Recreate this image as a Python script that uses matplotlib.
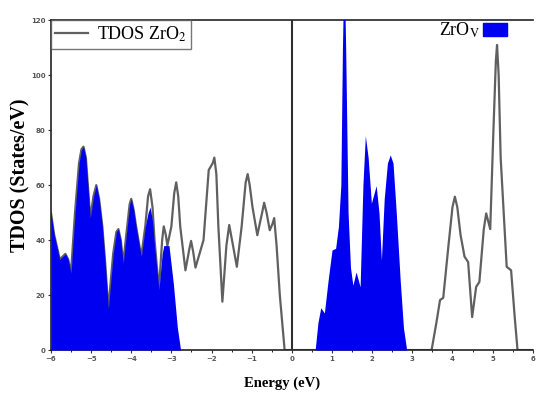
import matplotlib
matplotlib.use('Agg')
import matplotlib.pyplot as plt
from matplotlib.lines import Line2D
from matplotlib.patches import Patch

plt.rcParams['mathtext.fontset'] = 'stix'

# TDOS ZrO2 (grey line)
e_tdos = [-6.0, -5.92, -5.78, -5.71, -5.64, -5.57, -5.5, -5.4, -5.3, -5.24, -5.19, -5.13,
          -5.07, -5.02, -4.94, -4.87, -4.8, -4.72, -4.65, -4.57, -4.45, -4.37, -4.32, -4.26,
          -4.2, -4.1, -4.04, -4.0, -3.94, -3.88, -3.75, -3.65, -3.58, -3.53, -3.47, -3.42,
          -3.31, -3.23, -3.19, -3.14, -3.1, -3.0, -2.93, -2.88, -2.83, -2.78, -2.65, -2.55,
          -2.51, -2.46, -2.4, -2.2, -2.07, -1.97, -1.93, -1.88, -1.83, -1.73, -1.63, -1.56,
          -1.49, -1.37, -1.25, -1.15, -1.1, -1.05, -0.98, -0.86, -0.74, -0.69, -0.63, -0.55,
          -0.48, -0.44, -0.38, -0.3, -0.18, 0.0, 3.48, 3.6, 3.69, 3.77, 3.9, 4.0, 4.06, 4.12,
          4.2, 4.3, 4.39, 4.49, 4.59, 4.67, 4.78, 4.84, 4.94, 5.02, 5.08, 5.11, 5.15, 5.2,
          5.35, 5.46, 5.55, 5.62, 6.0]
tdos = [50, 42, 33, 34, 35, 33, 28, 50, 68, 73, 74, 70,
        58, 48, 56, 60, 55, 45, 32, 15, 35, 43, 44, 40,
        31.6, 45, 53, 55, 51, 45, 34, 45, 56, 58.5, 52, 40,
        22, 40, 45, 42, 38, 45, 57, 61, 56, 45, 29, 37,
        39.7, 36, 30, 40, 65.5, 68, 70, 64, 45, 17.6, 38, 45.5,
        40, 30.3, 45, 61, 64, 60, 52, 41.8, 50, 53.6, 50, 43.6,
        46, 48, 38, 20, 0, 0, 0, 10, 18.2, 19, 38, 52, 55.8, 52,
        42, 34, 32, 12, 23, 24.8, 44, 49.7, 44, 80, 105, 111, 100, 70,
        30.3, 29, 12, 0, 0]

# ZrOv (blue fill)
e_zrov = [-6.0, -5.92, -5.78, -5.71, -5.64, -5.57, -5.5, -5.4, -5.3, -5.24, -5.19, -5.13,
          -5.07, -5.02, -4.94, -4.87, -4.8, -4.72, -4.65, -4.57, -4.45, -4.37, -4.32, -4.26,
          -4.2, -4.1, -4.04, -4.0, -3.94, -3.88, -3.75, -3.65, -3.58, -3.53, -3.47, -3.42,
          -3.31, -3.23, -3.19, -3.06, -2.95, -2.85, -2.77, 0.58, 0.65, 0.72, 0.81, 0.9, 1.0,
          1.09, 1.16, 1.22, 1.26, 1.30, 1.34, 1.40, 1.46, 1.52, 1.6, 1.7, 1.77, 1.83, 1.9,
          1.98, 2.1, 2.17, 2.23, 2.3, 2.38, 2.45, 2.52, 2.6, 2.7, 2.78, 2.86, 6.0]
zrov = [50, 42, 33, 34, 35, 33, 28, 50, 68, 73, 74, 70,
        58, 48, 56, 60, 55, 45, 32, 15, 35, 43, 44, 40,
        31.6, 45, 53, 55, 51, 45, 34, 45, 50, 52, 47, 38,
        22, 35, 38, 38, 24, 8, 0, 0, 10, 15.4, 13.5, 25, 36.4,
        37, 45, 60, 110, 140, 110, 50, 30, 23.6, 28.4, 23, 60, 78, 70,
        53.4, 59.8, 50, 32.7, 55, 68, 71, 68, 50, 25, 8, 0, 0]

fig = plt.figure(figsize=(5.36, 3.96), dpi=100)
ax = fig.add_axes([0.095, 0.116, 0.899, 0.833])

ax.plot(e_tdos, tdos, color='#606060', lw=1.6, zorder=2)
ax.fill_between(e_zrov, zrov, 0, color='#0000f0', lw=0, zorder=3)
ax.axvline(0, color='#303030', lw=1.5, zorder=4)

ax.set_xlim(-6, 6)
ax.set_ylim(0, 120)
ax.set_xticks(range(-6, 7))
ax.set_xticks([x + 0.5 for x in range(-6, 6)], minor=True)
ax.set_yticks(range(0, 121, 20))
ax.tick_params(axis='both', which='major', direction='out', length=2, width=0.8,
               labelsize=5, colors='#333333', pad=2)
ax.tick_params(axis='both', which='minor', direction='out', length=1.5, width=0.6)
for lbl in ax.get_xticklabels() + ax.get_yticklabels():
    lbl.set_fontweight('bold')
    lbl.set_color('#555555')

for s in ['left', 'top', 'bottom']:
    ax.spines[s].set_linewidth(1.2)
    ax.spines[s].set_color('#222222')
ax.spines['right'].set_visible(False)

ax.set_xlabel('Energy (eV)', family='Liberation Serif', fontweight='bold', fontsize=10.5)
ax.xaxis.set_label_coords(0.48, -0.08)
ax.set_ylabel('TDOS (States/eV)', family='Liberation Serif', fontweight='bold', fontsize=14.5)
ax.yaxis.set_label_coords(-0.043, 0.53)

leg1 = ax.legend(handles=[Line2D([], [], color='#606060', lw=1.6)], labels=['TDOS ZrO$_2$'],
                 loc='upper left', borderaxespad=0, frameon=True, fancybox=False,
                 handlelength=1.8, prop={'family': 'Liberation Serif', 'size': 13},
                 borderpad=0.25, handletextpad=0.5)
leg1.get_frame().set_edgecolor('#555555')
leg1.get_frame().set_linewidth(1.0)
ax.add_artist(leg1)

ax.legend(handles=[Patch(color='#0000f0')], labels=['ZrO$_\\mathrm{V}$'],
          loc='upper right', bbox_to_anchor=(0.965, 1.025), frameon=False, markerfirst=False,
          handlelength=1.3, handleheight=0.75, handletextpad=0.2, borderaxespad=0.1,
          prop={'family': 'Liberation Serif', 'size': 13})

fig.savefig('out.png', dpi=100)
